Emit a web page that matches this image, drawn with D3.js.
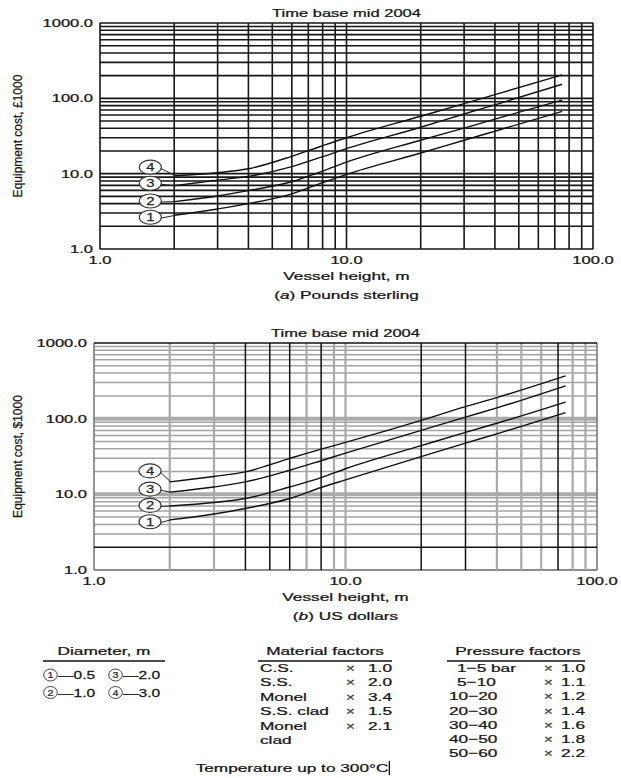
<!DOCTYPE html>
<html><head><meta charset="utf-8">
<script src="https://cdn.jsdelivr.net/npm/d3@7"></script>
<style>
body{margin:0;background:#fff}
svg{display:block}
text{font-family:"Liberation Sans",Arial,Helvetica,sans-serif;fill:#151515;stroke:#151515;stroke-width:0.25px}
</style>
</head><body>
<svg id="c" width="621" height="778"></svg>
<script>
// ---------------- data ----------------
const heights = [2, 3, 4, 6, 8, 10, 20, 30, 40, 75];           // vessel height, m
const curveIds = ["1", "2", "3", "4"];
const diameters = [0.5, 1.0, 2.0, 3.0];                          // m
const poundsCost = [                                             // £1000
  [2.8, 3.4, 4.0, 5.4, 7.6, 9.8, 18.8, 27.8, 36.6, 67],
  [4.25, 5.05, 5.95, 7.8, 10.8, 14.2, 27.8, 40.3, 53, 95],
  [6.9, 8.2, 9.2, 12.4, 16.8, 21.5, 41.3, 62, 82, 154],
  [9.4, 10.3, 11.6, 17.0, 23.5, 30, 57.8, 85, 112, 205]
];
const dollarCost = [                                             // $1000
  [4.6, 5.5, 6.5, 8.8, 12.3, 15.5, 31.5, 47.5, 63, 120],
  [7.0, 7.8, 8.8, 12.5, 16.6, 21.8, 44, 66, 87, 166],
  [10.7, 12.5, 14.6, 20.8, 27.8, 35, 70, 105, 139, 272],
  [14.6, 17.2, 19.8, 29.8, 39.5, 48.5, 95, 144, 190, 368]
];
const xTickValues = [1, 10, 100];
const yTickValues = [1, 10, 100, 1000];
const poundsLabelH = 1.6,  poundsLabelCost = [2.64, 4.34, 7.46, 12.2];
const dollarLabelH = 1.67, dollarLabelCost = [4.34, 7.14, 11.7, 20.4];
const materialNames = ["C.S.", "S.S.", "Monel", "S.S. clad", "Monel", "clad"];
const materialFactors = ["1.0", "2.0", "3.4", "1.5", "2.1", ""];
const pressureRanges = ["1\u22125 bar", "5\u221210", "10\u221220", "20\u221230", "30\u221240", "40\u221250", "50\u221260"];
const pressureFactors = ["1.0", "1.1", "1.2", "1.4", "1.6", "1.8", "2.2"];

// ---------------- drawing ----------------
const svg = d3.select("#c");
const SX = 1.5;
function T(sel, x, y, str, o = {}) {
  const t = sel.append("text")
    .attr("transform", `translate(${x},${y}) scale(${o.sx ?? SX},1)`)
    .attr("text-anchor", o.anchor || "middle")
    .style("font-size", (o.size || 11) + "px");
  if (o.dy) t.attr("dy", o.dy);
  if (str !== null) t.text(str);
  return t;
}

const panels = [
  { left: 100, right: 593, top: 23, bottom: 249, data: poundsCost, yTitle: "Equipment cost, \u00a31000",
    cap: ["a", ") Pounds sterling"], lh: poundsLabelH, lc: poundsLabelCost, mode: "black" },
  { left: 94, right: 597, top: 343, bottom: 570, data: dollarCost, yTitle: "Equipment cost, $1000",
    cap: ["b", ") US dollars"], lh: dollarLabelH, lc: dollarLabelCost, mode: "mixed" }
];

const darkX = [4, 5, 6, 8, 20, 30, 70];

panels.forEach(p => {
  const x = d3.scaleLog().domain([1, 100]).range([p.left, p.right]);
  const y = d3.scaleLog().domain([1, 1000]).range([p.bottom, p.top]);
  const g = svg.append("g");
  const grid = g.append("g");

  const xs = x.ticks(), ys = y.ticks();
  function vStyle(v) {
    if (p.mode === "black") return { c: "#161616", w: 1.6, k: 1 };
    if (v === 1 || v === 100) return { c: "#7a7a7a", w: 1.6, k: 0 };
    if (darkX.includes(v)) return { c: "#111", w: 1.5, k: 1 };
    return { c: "#a9a9a9", w: 2.2, k: 0 };
  }
  function hStyle(v) {
    if (p.mode === "black") return { c: "#161616", w: 1.6, k: 1 };
    if (v === 2 || v === 1000) return { c: "#111", w: 1.5, k: 1 };
    if (v === 1) return { c: "#666", w: 1.5, k: 0 };
    if (v === 10 || v === 100) return { c: "#ababab", w: 4, k: 0 };
    return { c: "#a3a3a3", w: 1.5, k: 0 };
  }
  const all = ys.map(v => ({ v, s: hStyle(v), h: true })).concat(xs.map(v => ({ v, s: vStyle(v), h: false })));
  all.sort((a, b) => a.s.k - b.s.k);   // gray first, black on top
  all.forEach(d => {
    if (d.h) grid.append("line").attr("x1", p.left).attr("x2", p.right).attr("y1", y(d.v)).attr("y2", y(d.v))
      .attr("stroke", d.s.c).attr("stroke-width", d.s.w);
    else grid.append("line").attr("y1", p.top).attr("y2", p.bottom).attr("x1", x(d.v)).attr("x2", x(d.v))
      .attr("stroke", d.s.c).attr("stroke-width", d.s.w);
  });

  // tick labels
  const fmt = d3.format(".1f");
  yTickValues.forEach(v => T(g, p.left - 7, y(v), fmt(v), { anchor: "end", dy: "0.35em", size: 11 }));
  xTickValues.forEach(v => T(g, x(v), p.bottom + 15, fmt(v), { size: 11 }));

  // titles
  const cx = (p.left + p.right) / 2;
  T(g, cx, p.top - 6, "Time base mid 2004", { size: 11 });
  T(g, cx, p.bottom + 31, "Vessel height, m", { size: 11.5 });
  const cap = T(g, cx, p.bottom + 50, null, { size: 11.5 });
  cap.append("tspan").text("(");
  cap.append("tspan").style("font-style", "italic").text(p.cap[0]);
  cap.append("tspan").text(p.cap[1]);
  g.append("text").attr("transform", `translate(${22},${(p.top + p.bottom) / 2}) rotate(-90)`)
    .attr("text-anchor", "middle").style("font-size", "12px").text(p.yTitle);

  // curves
  const line = d3.line().x(d => x(d[0])).y(d => y(d[1])).curve(d3.curveMonotoneX);
  p.data.forEach((vals, i) => {
    const pts = heights.map((h, j) => [h, vals[j]]);
    g.append("path").attr("d", line(pts)).attr("fill", "none").attr("stroke", "#111").attr("stroke-width", 1.4);
    // label bubble + leader
    const lx = x(p.lh), ly = y(p.lc[i]);
    g.append("line").attr("x1", lx + 10).attr("y1", ly + 1).attr("x2", x(heights[0]) + 1).attr("y2", y(vals[0]))
      .attr("stroke", "#222").attr("stroke-width", 1);
    g.append("ellipse").attr("cx", lx).attr("cy", ly).attr("rx", 11).attr("ry", 7)
      .attr("fill", "#fff").attr("stroke", "#333").attr("stroke-width", 1.1);
    T(g, lx, ly, curveIds[i], { size: 11, sx: 1.35, dy: "0.36em" }).style("fill", "#333");
  });
});

// ---------------- legend tables ----------------
const L = svg.append("g");
const LS = 11.5;
// Diameter
T(L, 104, 655, "Diameter, m", { size: LS });
L.append("line").attr("x1", 43).attr("x2", 165).attr("y1", 661).attr("y2", 661).attr("stroke", "#111").attr("stroke-width", 1.4);
curveIds.forEach((id, i) => {
  const col = Math.floor(i / 2), row = i % 2;
  const x0 = 44 + col * 65, yb = 679 + row * 17.5;
  L.append("ellipse").attr("cx", x0 + 6.5).attr("cy", yb - 4).attr("rx", 6.8).attr("ry", 6)
    .attr("fill", "none").attr("stroke", "#333").attr("stroke-width", 0.9);
  T(L, x0 + 6.5, yb - 4, id, { size: 9, sx: 1.2, dy: "0.36em" }).style("fill", "#333");
  T(L, x0 + 14, yb, "\u2014" + d3.format(".1f")(diameters[i]), { anchor: "start", size: LS, sx: 1.35 });
});
// Material factors
T(L, 325, 655, "Material factors", { size: LS });
L.append("line").attr("x1", 258).attr("x2", 392).attr("y1", 661).attr("y2", 661).attr("stroke", "#111").attr("stroke-width", 1.4);
materialNames.forEach((m, i) => {
  const yb = 672 + i * 14.4;
  T(L, 260, yb, m, { anchor: "start", size: LS });
  if (materialFactors[i]) {
    T(L, 346, yb, "\u00d7", { anchor: "start", size: 10 }).style("fill", "#555");
    T(L, 392, yb, materialFactors[i], { anchor: "end", size: LS });
  }
});
// Pressure factors
T(L, 518, 655, "Pressure factors", { size: LS });
L.append("line").attr("x1", 447).attr("x2", 585).attr("y1", 661).attr("y2", 661).attr("stroke", "#111").attr("stroke-width", 1.4);
pressureRanges.forEach((r, i) => {
  const yb = 672 + i * 14.2;
  const indent = /^\d\u2212/.test(r) ? 8 : 0;
  T(L, 449 + indent, yb, r, { anchor: "start", size: LS });
  T(L, 544, yb, "\u00d7", { anchor: "start", size: 10 }).style("fill", "#555");
  T(L, 585, yb, pressureFactors[i], { anchor: "end", size: LS });
});
// Temperature note
const tn = T(L, 292, 772, "Temperature up to 300\u00b0C", { size: LS });
const tw = tn.node().getComputedTextLength() * SX;
L.append("line").attr("x1", 292 + tw / 2 + 1).attr("x2", 292 + tw / 2 + 1).attr("y1", 761).attr("y2", 775)
  .attr("stroke", "#111").attr("stroke-width", 1.3);
</script>
</body></html>
